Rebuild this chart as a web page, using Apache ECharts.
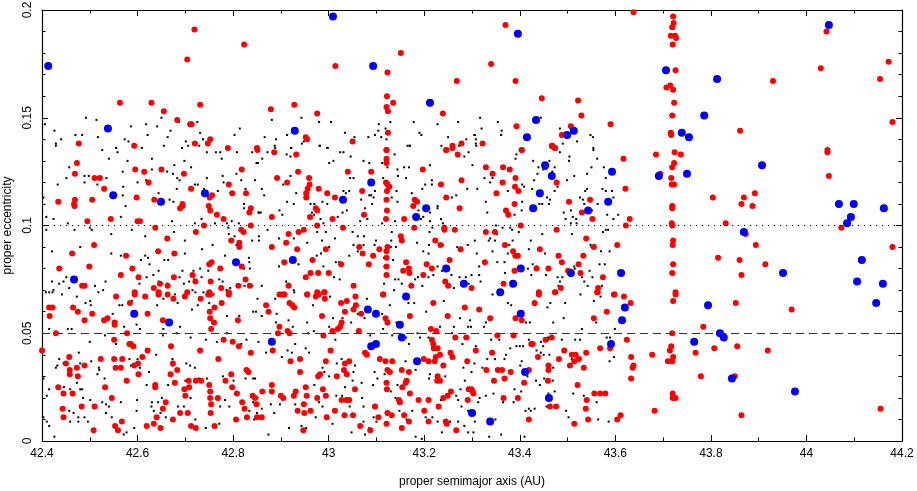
<!DOCTYPE html>
<html>
<head>
<meta charset="utf-8">
<script src="https://cdn.jsdelivr.net/npm/echarts@6/dist/echarts.min.js"></script>
<style>
  html, body { margin: 0; padding: 0; background: #fff; }
  #myChart { width: 917px; height: 491px; }
</style>
</head>
<body>
<div id="myChart"></div>
<script>
// [proper semimajor axis (AU), proper eccentricity]
var bluePts = [
  [42.413,0.174],[42.538,0.145],[42.549,0.114],[42.649,0.111],[42.741,0.115],[42.806,0.083],[42.467,0.075],[42.593,0.059],[42.666,0.055],
  [42.929,0.144],[42.925,0.084],[42.881,0.046],[43.009,0.197],[43.093,0.174],[43.089,0.120],[43.030,0.112],[43.212,0.157],[43.204,0.108],
  [43.183,0.104],[43.246,0.080],[43.283,0.073],[43.162,0.067],[43.082,0.061],[43.099,0.059],[43.149,0.054],[43.153,0.048],[43.089,0.044],
  [43.099,0.045],[43.185,0.037],[43.300,0.013],[43.338,0.009],[43.396,0.189],[43.434,0.149],[43.415,0.141],[43.499,0.142],[43.513,0.144],
  [43.453,0.128],[43.467,0.123],[43.442,0.115],[43.428,0.108],[43.593,0.125],[43.585,0.111],[43.543,0.107],[43.691,0.123],[43.750,0.124],
  [43.706,0.172],[43.739,0.143],[43.754,0.141],[43.786,0.151],[43.813,0.168],[43.907,0.128],[43.869,0.097],[43.951,0.078],[44.047,0.193],
  [44.068,0.110],[44.099,0.110],[44.093,0.104],[44.085,0.101],[44.162,0.108],[44.116,0.084],[44.106,0.074],[44.160,0.073],[43.402,0.080],
  [43.507,0.078],[43.612,0.078],[43.386,0.073],[43.359,0.069],[43.402,0.059],[43.620,0.062],[43.614,0.056],[43.591,0.045],[43.411,0.032],
  [43.461,0.020],[43.794,0.063],[44.146,0.064],[43.819,0.050],[43.827,0.048],[43.765,0.046],[43.844,0.029],[43.976,0.023]
];

var redPts = [
  [42.719,0.191],[42.823,0.184],[42.704,0.177],[42.563,0.157],[42.629,0.157],[42.655,0.153],[42.731,0.156],[42.683,0.149],[42.710,0.147],
  [42.713,0.147],[42.477,0.138],[42.593,0.137],[42.720,0.138],[42.747,0.138],[42.752,0.140],[42.789,0.136],[42.850,0.136],
  [43.151,0.180],[43.014,0.174],[43.123,0.171],[43.268,0.167],[43.122,0.160],[43.121,0.155],[43.135,0.157],[43.124,0.153],[42.879,0.154],
  [42.928,0.156],[42.976,0.152],[43.239,0.152],[43.124,0.143],[42.952,0.141],[42.955,0.140],[43.050,0.139],[43.259,0.137],[43.246,0.135],[43.121,0.135],
  [43.638,0.199],[43.370,0.193],[43.340,0.175],[43.391,0.167],[43.446,0.159],[43.522,0.158],[43.529,0.151],[43.393,0.146],[43.590,0.147],
  [43.507,0.146],[43.488,0.142],[43.322,0.138],[43.404,0.135],[43.468,0.137],[43.474,0.136],
  [43.721,0.197],[43.722,0.194],[43.719,0.192],[43.716,0.188],[43.725,0.188],[43.727,0.187],[43.720,0.184],[43.726,0.172],[43.715,0.165],
  [43.707,0.164],[43.721,0.163],[43.723,0.157],[43.719,0.151],[43.716,0.143],[43.717,0.142],
  [44.042,0.190],[44.030,0.173],[43.930,0.167],[44.172,0.176],[44.154,0.168],[44.180,0.148],[43.861,0.144],[44.044,0.135],
  [42.473,0.129],[42.469,0.124],[42.595,0.126],[42.614,0.125],[42.650,0.126],[42.697,0.124],[42.510,0.122],[42.521,0.122],[42.623,0.120],
  [42.818,0.126],[42.791,0.119],[42.712,0.117],[42.751,0.113],[42.756,0.114],[42.798,0.115],[42.827,0.115],[42.530,0.117],[42.505,0.112],
  [42.469,0.112],[42.467,0.110],[42.468,0.109],[42.434,0.111],[42.598,0.113],[42.635,0.112],[42.689,0.108],[42.694,0.109],[42.694,0.110],
  [42.749,0.109],[42.752,0.107],[42.766,0.105],[42.780,0.103],[42.837,0.108],[42.834,0.106],[42.495,0.102],[42.544,0.103],[42.600,0.102],
  [42.605,0.102],[42.739,0.100],[42.837,0.100],[42.637,0.099],[42.817,0.098],[42.822,0.097],[42.722,0.097],[42.662,0.094],[42.796,0.093],
  [42.813,0.092],[42.813,0.090],[42.509,0.091],[42.463,0.087],[42.643,0.088],[42.677,0.087],[42.576,0.086],[42.499,0.081],[42.436,0.080],
  [42.589,0.080],[42.755,0.083],[42.750,0.082],[42.773,0.080],[42.818,0.081],[42.565,0.077],[42.602,0.076],[42.676,0.076],[42.715,0.077],
  [42.753,0.074],[42.826,0.075],[42.484,0.072],[42.489,0.072],[42.647,0.073],[42.634,0.071],[42.663,0.072],[42.721,0.074],[42.775,0.071],
  [42.811,0.072],[42.835,0.072],[42.594,0.069],[42.644,0.069],[42.704,0.069],[42.750,0.069],[42.791,0.069],
  [42.851,0.135],[42.886,0.134],[42.932,0.133],[42.892,0.122],[42.913,0.120],[42.936,0.125],[42.959,0.122],[42.960,0.119],[42.956,0.117],
  [42.953,0.115],[42.953,0.113],[42.979,0.117],[42.997,0.115],[43.013,0.113],[43.040,0.125],[43.089,0.125],[43.070,0.116],[43.121,0.135],
  [43.121,0.131],[43.121,0.129],[43.120,0.120],[43.123,0.119],[43.127,0.118],[43.122,0.116],[43.121,0.112],[43.122,0.107],[43.120,0.103],
  [42.973,0.108],[42.976,0.107],[42.961,0.104],[42.881,0.104],[43.008,0.103],[42.976,0.100],[43.030,0.099],[43.074,0.105],[42.948,0.098],
  [42.937,0.097],[42.916,0.096],[42.911,0.092],[42.881,0.090],[42.934,0.089],[42.994,0.089],[43.180,0.112],[43.185,0.111],[43.177,0.109],
  [43.197,0.126],[43.235,0.119],[43.246,0.113],[43.278,0.121],[43.274,0.108],[43.246,0.135],[43.259,0.136],[43.270,0.133],[43.278,0.138],
  [43.158,0.103],[43.179,0.099],[43.242,0.099],[43.242,0.098],[43.264,0.098],[43.151,0.095],[43.153,0.093],[43.223,0.093],[43.234,0.091],
  [43.276,0.089],[43.253,0.084],[43.064,0.090],[43.071,0.087],[43.093,0.086],[43.106,0.089],[43.121,0.088],[43.121,0.085],[43.123,0.090],
  [43.084,0.082],[42.966,0.084],[42.907,0.083],[43.026,0.082],[42.978,0.078],[42.962,0.078],[43.000,0.078],[42.952,0.076],[42.916,0.072],
  [43.052,0.072],[43.121,0.081],[43.121,0.077],[43.162,0.083],[43.156,0.079],[43.168,0.080],[43.169,0.078],[43.205,0.082],[43.198,0.077],
  [43.216,0.080],[43.244,0.074],[43.250,0.072],[43.173,0.072],[42.897,0.068],[42.907,0.068],[42.955,0.068],[42.976,0.069],[42.991,0.069],[43.114,0.068],
  [43.404,0.135],[43.467,0.137],[43.473,0.136],[43.329,0.127],[43.343,0.124],[43.365,0.127],[43.379,0.126],[43.364,0.120],[43.391,0.122],
  [43.390,0.118],[43.397,0.116],[43.351,0.115],[43.389,0.110],[43.371,0.107],[43.376,0.105],[43.453,0.127],[43.477,0.120],[43.503,0.111],
  [43.547,0.112],[43.530,0.106],[43.552,0.103],[43.617,0.131],[43.621,0.117],[43.630,0.103],[43.622,0.100],[43.402,0.100],[43.329,0.097],
  [43.348,0.097],[43.477,0.098],[43.539,0.094],[43.369,0.091],[43.386,0.088],[43.391,0.086],[43.396,0.086],[43.442,0.089],[43.481,0.086],
  [43.533,0.086],[43.555,0.090],[43.604,0.091],[43.327,0.083],[43.389,0.079],[43.435,0.080],[43.460,0.080],[43.488,0.083],[43.501,0.079],
  [43.523,0.082],[43.527,0.078],[43.574,0.076],[43.366,0.073],[43.299,0.071],[43.440,0.069],[43.474,0.069],[43.486,0.071],[43.564,0.071],
  [43.563,0.069],[43.597,0.068],
  [43.685,0.133],[43.724,0.134],[43.737,0.133],[43.723,0.129],[43.719,0.127],[43.717,0.122],[43.718,0.119],[43.723,0.119],[43.719,0.109],
  [43.719,0.108],[43.718,0.101],[43.719,0.100],[43.721,0.093],[43.720,0.091],[43.721,0.082],[43.719,0.078],[43.726,0.069],[43.694,0.124],
  [44.044,0.134],[44.047,0.123],[43.804,0.113],[43.869,0.113],[43.892,0.115],[43.864,0.110],[43.887,0.109],[43.831,0.101],[43.873,0.096],
  [43.894,0.091],[44.073,0.099],[44.180,0.090],[43.815,0.085],[43.860,0.084],[43.914,0.082],[43.864,0.077],
  [43.852,0.064],[43.969,0.061],[43.784,0.053],[43.768,0.041],[43.807,0.043],[43.855,0.044],[43.919,0.042],[43.779,0.030],[43.850,0.030],
  [43.864,0.012],[44.155,0.015],
  [43.440,0.068],[43.474,0.069],[43.562,0.069],[43.598,0.068],[43.618,0.067],[43.632,0.064],[43.726,0.068],[43.721,0.065],[43.315,0.061],
  [43.431,0.064],[43.391,0.057],[43.404,0.056],[43.338,0.057],[43.555,0.057],[43.582,0.060],[43.353,0.049],[43.387,0.049],[43.467,0.048],
  [43.454,0.047],[43.424,0.045],[43.427,0.045],[43.624,0.047],[43.719,0.050],[43.308,0.042],[43.342,0.041],[43.438,0.039],[43.493,0.042],
  [43.482,0.038],[43.509,0.040],[43.517,0.040],[43.514,0.037],[43.524,0.038],[43.539,0.041],[43.505,0.035],[43.534,0.034],[43.568,0.043],
  [43.589,0.043],[43.633,0.039],[43.677,0.040],[43.717,0.044],[43.714,0.042],[43.721,0.039],[43.710,0.037],[43.719,0.037],[43.638,0.035],
  [43.636,0.034],[43.460,0.035],[43.460,0.033],[43.330,0.033],[43.354,0.033],[43.363,0.033],[43.381,0.032],[43.419,0.033],[43.459,0.028],
  [43.521,0.026],[43.633,0.029],[43.346,0.028],[43.368,0.029],[43.409,0.027],[43.299,0.024],[43.303,0.022],[43.366,0.020],[43.396,0.020],
  [43.463,0.016],[43.476,0.016],[43.540,0.019],[43.538,0.015],[43.556,0.022],[43.568,0.022],[43.579,0.022],[43.720,0.022],[43.720,0.020],
  [43.726,0.020],[43.682,0.014],[43.419,0.010],[43.543,0.010],[43.514,0.008],[43.604,0.010],[43.611,0.012],
  [42.902,0.068],[42.907,0.068],[42.955,0.068],[42.973,0.067],[42.979,0.068],[42.991,0.069],[42.992,0.066],[42.869,0.063],[42.874,0.060],
  [42.918,0.064],[42.924,0.063],[42.928,0.062],[42.986,0.058],[43.026,0.064],[43.038,0.065],[43.056,0.067],[43.057,0.063],[43.052,0.061],
  [43.034,0.060],[43.068,0.059],[43.114,0.068],[43.119,0.057],[43.123,0.055],[43.170,0.058],[43.219,0.064],[43.249,0.058],[43.285,0.062],
  [42.897,0.053],[42.894,0.050],[42.914,0.051],[42.918,0.050],[42.989,0.049],[43.027,0.055],[43.024,0.053],[43.008,0.051],[43.019,0.052],
  [43.063,0.051],[42.883,0.042],[43.004,0.042],[42.920,0.037],[42.940,0.038],[42.994,0.037],[43.043,0.037],[43.034,0.036],[43.076,0.041],
  [43.080,0.040],[43.107,0.038],[43.119,0.037],[43.123,0.033],[43.128,0.032],[43.133,0.037],[43.153,0.033],[43.168,0.032],[43.199,0.038],
  [43.209,0.037],[43.224,0.039],[43.222,0.037],[43.233,0.040],[43.216,0.047],[43.219,0.045],[43.220,0.043],[43.228,0.043],[43.214,0.052],
  [43.225,0.051],[43.240,0.035],[43.255,0.041],[43.259,0.039],[43.265,0.048],[43.288,0.048],[43.290,0.037],[42.940,0.032],[42.978,0.030],
  [42.982,0.031],[43.017,0.030],[43.032,0.033],[43.038,0.031],[43.055,0.024],[43.037,0.019],[43.027,0.019],[43.043,0.019],[42.988,0.024],
  [42.952,0.025],[42.861,0.023],[42.881,0.026],[42.881,0.023],[42.900,0.021],[42.905,0.020],[42.927,0.021],[42.931,0.023],[42.954,0.021],
  [42.976,0.020],[42.948,0.017],[42.994,0.021],[42.846,0.020],[43.121,0.027],[43.122,0.024],[43.163,0.028],[43.161,0.027],[43.154,0.025],
  [43.170,0.022],[43.147,0.019],[43.149,0.018],[43.188,0.019],[43.209,0.019],[43.228,0.030],[43.233,0.028],[43.227,0.028],[43.240,0.020],
  [43.249,0.021],[43.256,0.023],[43.293,0.024],[43.301,0.023],[43.291,0.019],[43.230,0.016],[43.200,0.014],[43.097,0.016],[43.104,0.011],
  [43.123,0.013],[43.121,0.008],[43.132,0.012],[43.158,0.012],[43.168,0.009],[43.153,0.006],[43.209,0.009],[43.245,0.009],[43.247,0.008],
  [43.267,0.005],[42.850,0.011],[42.860,0.011],[42.935,0.014],[42.949,0.013],[42.962,0.014],[43.013,0.014],[42.996,0.011],[43.033,0.012],
  [43.051,0.012],[43.066,0.007],[43.087,0.005],[42.947,0.005],
  [42.415,0.062],[42.422,0.062],[42.416,0.058],[42.429,0.050],[42.400,0.042],[42.465,0.062],[42.475,0.060],[42.505,0.059],[42.489,0.056],
  [42.530,0.056],[42.537,0.057],[42.552,0.054],[42.552,0.055],[42.555,0.067],[42.584,0.064],[42.594,0.068],[42.616,0.067],[42.621,0.059],
  [42.644,0.068],[42.663,0.068],[42.675,0.066],[42.653,0.056],[42.699,0.067],[42.732,0.066],[42.748,0.068],[42.752,0.068],[42.761,0.062],
  [42.751,0.060],[42.752,0.057],[42.754,0.052],[42.760,0.055],[42.791,0.068],[42.776,0.064],[42.810,0.056],[42.551,0.047],[42.578,0.050],
  [42.583,0.045],[42.591,0.044],[42.586,0.045],[42.621,0.042],[42.670,0.044],[42.610,0.039],[42.601,0.036],[42.593,0.035],[42.602,0.031],
  [42.568,0.038],[42.551,0.038],[42.554,0.034],[42.565,0.034],[42.523,0.038],[42.489,0.035],[42.473,0.034],[42.475,0.030],[42.458,0.033],
  [42.458,0.031],[42.450,0.036],[42.457,0.039],[42.434,0.025],[42.445,0.022],[42.464,0.022],[42.443,0.015],[42.445,0.011],[42.483,0.016],
  [42.510,0.016],[42.532,0.025],[42.546,0.020],[42.577,0.028],[42.508,0.005],[42.553,0.007],[42.559,0.005],[42.567,0.009],[42.674,0.036],
  [42.683,0.033],[42.669,0.031],[42.678,0.027],[42.637,0.026],[42.637,0.025],[42.659,0.018],[42.653,0.015],[42.640,0.011],[42.634,0.008],
  [42.648,0.006],[42.619,0.007],[42.674,0.010],[42.698,0.024],[42.700,0.021],[42.689,0.013],[42.705,0.013],[42.707,0.028],[42.708,0.025],
  [42.722,0.028],[42.733,0.028],[42.750,0.026],[42.752,0.023],[42.752,0.020],[42.754,0.017],[42.753,0.013],[42.768,0.020],[42.712,0.007],
  [42.722,0.006],[42.761,0.007],[42.731,0.042],[42.769,0.038],[42.780,0.047],[42.799,0.046],[42.812,0.044],[42.837,0.041],[42.828,0.033],
  [42.832,0.032],[42.796,0.031],[42.784,0.028],[42.798,0.025],[42.808,0.022],[42.819,0.018],[42.824,0.015],[42.841,0.021],[42.849,0.017],
  [42.806,0.010],[42.829,0.011]
];

var blackPts = [
  [42.406,0.147],[42.426,0.144],[42.440,0.140],[42.429,0.137],[42.470,0.142],[42.484,0.142],[42.492,0.150],[42.514,0.149],[42.517,0.141],
  [42.555,0.136],[42.573,0.140],[42.581,0.139],[42.586,0.146],[42.609,0.136],[42.618,0.147],[42.621,0.142],[42.641,0.146],[42.650,0.150],
  [42.655,0.137],[42.663,0.141],[42.669,0.144],[42.686,0.148],[42.693,0.136],[42.701,0.139],[42.706,0.137],[42.725,0.148],[42.729,0.137],
  [42.731,0.143],[42.737,0.140],[42.803,0.142],[42.814,0.145],
  [42.881,0.149],[42.866,0.141],[42.890,0.140],[42.913,0.142],[42.943,0.150],[42.980,0.148],[43.005,0.148],[42.948,0.139],[42.944,0.138],
  [42.982,0.137],[42.998,0.136],[42.921,0.136],[42.887,0.137],[43.034,0.143],[43.054,0.141],[43.083,0.141],[43.097,0.142],[43.105,0.147],
  [43.110,0.141],[43.104,0.144],[43.119,0.145],[43.121,0.140],[43.129,0.148],[43.165,0.137],[43.169,0.137],[43.178,0.148],[43.190,0.143],
  [43.194,0.142],[43.228,0.147],[43.250,0.141],[43.236,0.137],[43.271,0.148],[43.273,0.137],[43.288,0.140],[43.305,0.142],
  [43.317,0.150],[43.354,0.148],[43.320,0.145],[43.306,0.142],[43.308,0.140],[43.362,0.144],[43.361,0.142],[43.309,0.137],[43.444,0.150],
  [43.484,0.145],[43.490,0.138],[43.520,0.139],[43.548,0.142],[43.553,0.141],[43.554,0.136],
  [42.429,0.138],[42.526,0.135],[42.555,0.136],[42.558,0.134],[42.540,0.131],[42.579,0.130],[42.630,0.131],[42.693,0.136],[42.745,0.134],
  [42.764,0.134],[42.773,0.134],[42.776,0.131],[42.808,0.134],[42.840,0.134],[42.852,0.129],[42.457,0.127],[42.489,0.123],[42.498,0.123],
  [42.489,0.120],[42.451,0.122],[42.433,0.119],[42.403,0.113],[42.516,0.119],[42.535,0.122],[42.569,0.125],[42.569,0.114],[42.570,0.118],
  [42.600,0.120],[42.618,0.121],[42.630,0.126],[42.662,0.125],[42.674,0.124],[42.677,0.128],[42.683,0.122],[42.688,0.121],[42.682,0.117],
  [42.720,0.119],[42.726,0.119],[42.712,0.127],[42.698,0.130],[42.745,0.122],[42.739,0.117],[42.768,0.116],[42.778,0.123],[42.780,0.120],
  [42.807,0.124],[42.817,0.121],[42.826,0.117],[42.409,0.104],[42.424,0.103],[42.409,0.098],[42.454,0.101],[42.500,0.099],[42.504,0.098],
  [42.468,0.098],[42.545,0.096],[42.565,0.104],[42.575,0.109],[42.588,0.098],[42.616,0.095],[42.648,0.110],[42.644,0.115],[42.667,0.112],
  [42.675,0.111],[42.676,0.097],[42.672,0.102],[42.699,0.093],[42.720,0.101],[42.734,0.103],[42.762,0.101],[42.787,0.101],[42.790,0.099],
  [42.797,0.102],[42.812,0.101],[42.823,0.108],[42.823,0.110],[42.854,0.106],[42.791,0.096],[42.803,0.095],[42.840,0.093],[42.807,0.091],
  [42.854,0.095],[42.480,0.090],[42.421,0.088],[42.545,0.087],[42.565,0.086],[42.573,0.086],[42.607,0.084],[42.616,0.086],[42.622,0.085],
  [42.625,0.082],[42.644,0.079],[42.656,0.084],[42.664,0.084],[42.699,0.087],[42.735,0.089],[42.757,0.091],[42.783,0.086],[42.833,0.085],
  [42.834,0.083],[42.823,0.080],[42.835,0.080],[42.717,0.079],[42.731,0.080],[42.694,0.079],[42.633,0.077],[42.619,0.076],[42.644,0.074],
  [42.663,0.073],[42.688,0.076],[42.697,0.073],[42.708,0.074],[42.718,0.075],[42.734,0.076],[42.748,0.079],[42.778,0.074],[42.771,0.075],
  [42.794,0.071],[42.824,0.072],[42.451,0.076],[42.436,0.073],[42.421,0.074],[42.424,0.070],[42.445,0.074],[42.457,0.071],[42.408,0.069],
  [42.511,0.072],[42.528,0.070],[42.533,0.074],[42.604,0.073],[42.715,0.070],[42.738,0.069],[42.786,0.070],[42.840,0.072],
  [42.872,0.134],[42.888,0.136],[42.912,0.133],[42.920,0.132],[42.922,0.136],[42.981,0.137],[42.997,0.136],[43.024,0.134],[43.031,0.134],
  [43.010,0.130],[43.001,0.129],[43.046,0.132],[43.073,0.130],[43.085,0.129],[43.123,0.127],[43.138,0.133],[43.144,0.126],[43.158,0.127],
  [43.168,0.127],[43.162,0.122],[43.145,0.123],[43.114,0.122],[43.112,0.129],[43.170,0.137],[43.212,0.128],[43.202,0.119],[43.216,0.121],
  [43.216,0.119],[43.196,0.117],[43.174,0.115],[43.228,0.109],[43.228,0.108],[43.188,0.107],[43.212,0.106],[43.258,0.113],[43.267,0.114],
  [43.284,0.132],[43.293,0.134],[43.290,0.117],[42.849,0.129],[42.861,0.131],[42.846,0.121],[42.860,0.117],[42.865,0.114],[42.913,0.111],
  [42.927,0.110],[42.932,0.115],[42.905,0.119],[42.920,0.123],[42.962,0.110],[42.970,0.110],[42.997,0.110],[42.987,0.111],[43.031,0.116],
  [43.036,0.115],[43.043,0.116],[43.029,0.106],[43.019,0.104],[43.038,0.107],[43.045,0.122],[43.052,0.122],[43.068,0.112],[43.085,0.114],
  [43.089,0.114],[43.094,0.113],[43.097,0.116],[43.091,0.110],[43.142,0.116],[43.144,0.111],[43.112,0.101],[43.132,0.113],[42.897,0.107],
  [42.903,0.105],[42.853,0.106],[42.858,0.106],[42.965,0.106],[42.969,0.105],[42.983,0.103],[42.989,0.101],[43.066,0.102],[43.081,0.103],
  [43.076,0.108],[43.139,0.102],[43.212,0.102],[43.239,0.101],[43.198,0.104],[43.193,0.103],[43.235,0.103],[42.854,0.093],[42.872,0.098],
  [42.896,0.094],[42.927,0.094],[42.955,0.092],[42.976,0.097],[42.986,0.093],[43.001,0.090],[42.994,0.097],[43.013,0.094],[43.061,0.095],
  [43.074,0.095],[43.050,0.097],[43.073,0.091],[43.052,0.091],[43.043,0.086],[43.061,0.088],[43.096,0.091],[43.099,0.093],[43.131,0.093],
  [43.130,0.090],[43.132,0.097],[43.141,0.090],[43.185,0.092],[43.211,0.097],[43.210,0.091],[43.217,0.099],[43.198,0.088],[43.209,0.087],
  [43.239,0.091],[43.269,0.090],[43.291,0.091],[43.306,0.093],[42.975,0.086],[42.984,0.087],[43.015,0.083],[43.022,0.083],[43.023,0.075],
  [43.011,0.076],[42.989,0.081],[42.937,0.082],[42.896,0.081],[42.911,0.074],[42.916,0.073],[42.928,0.069],[42.860,0.072],[43.116,0.085],
  [43.117,0.081],[43.135,0.084],[43.116,0.073],[43.139,0.075],[43.146,0.075],[43.153,0.073],[43.181,0.075],[43.187,0.076],[43.209,0.076],
  [43.228,0.081],[43.237,0.079],[43.196,0.072],[43.219,0.077],[43.257,0.077],[43.262,0.071],[43.293,0.073],[43.287,0.076],[43.274,0.076],
  [43.308,0.138],[43.301,0.128],[43.326,0.122],[43.343,0.122],[43.338,0.120],[43.311,0.117],[43.393,0.133],[43.391,0.131],[43.428,0.130],
  [43.439,0.127],[43.449,0.126],[43.437,0.124],[43.430,0.121],[43.409,0.118],[43.426,0.117],[43.405,0.119],[43.375,0.116],[43.329,0.111],
  [43.332,0.106],[43.389,0.105],[43.405,0.111],[43.404,0.107],[43.462,0.130],[43.473,0.127],[43.468,0.125],[43.484,0.134],[43.465,0.136],
  [43.504,0.132],[43.503,0.130],[43.554,0.135],[43.562,0.131],[43.550,0.127],[43.541,0.124],[43.576,0.127],[43.580,0.122],[43.499,0.121],
  [43.514,0.123],[43.479,0.118],[43.473,0.116],[43.457,0.113],[43.463,0.112],[43.461,0.110],[43.447,0.110],[43.441,0.110],[43.492,0.106],
  [43.496,0.103],[43.507,0.107],[43.511,0.104],[43.507,0.101],[43.518,0.103],[43.519,0.101],[43.526,0.113],[43.532,0.112],[43.535,0.110],
  [43.537,0.116],[43.541,0.117],[43.551,0.107],[43.563,0.110],[43.573,0.117],[43.580,0.116],[43.593,0.116],[43.596,0.113],[43.583,0.105],
  [43.596,0.103],[43.606,0.105],[43.585,0.098],[43.574,0.097],[43.580,0.098],[43.350,0.100],[43.364,0.099],[43.380,0.099],[43.384,0.098],
  [43.398,0.097],[43.352,0.096],[43.338,0.094],[43.335,0.093],[43.348,0.093],[43.423,0.093],[43.447,0.096],[43.509,0.096],[43.548,0.091],
  [43.556,0.091],[43.550,0.090],[43.588,0.088],[43.570,0.088],[43.310,0.087],[43.343,0.088],[43.385,0.093],[43.378,0.091],[43.375,0.087],
  [43.387,0.086],[43.419,0.089],[43.453,0.087],[43.427,0.082],[43.435,0.081],[43.417,0.080],[43.455,0.077],[43.424,0.077],[43.368,0.083],
  [43.353,0.083],[43.315,0.081],[43.315,0.077],[43.299,0.077],[43.318,0.074],[43.369,0.078],[43.479,0.076],[43.489,0.076],[43.481,0.072],
  [43.484,0.074],[43.514,0.081],[43.515,0.080],[43.546,0.079],[43.552,0.076],[43.567,0.082],[43.578,0.082],[43.542,0.072],[43.572,0.072],
  [43.535,0.074],[43.530,0.076],
  [42.415,0.069],[42.422,0.069],[42.442,0.068],[42.473,0.067],[42.501,0.065],[42.502,0.063],[42.491,0.064],[42.518,0.069],[42.548,0.059],
  [42.562,0.063],[42.568,0.063],[42.588,0.065],[42.595,0.060],[42.641,0.063],[42.654,0.066],[42.678,0.068],[42.684,0.064],[42.714,0.061],
  [42.721,0.069],[42.759,0.068],[42.750,0.064],[42.726,0.063],[42.787,0.058],[42.813,0.058],[42.842,0.060],[42.848,0.060],[42.415,0.052],
  [42.454,0.052],[42.462,0.052],[42.500,0.046],[42.532,0.049],[42.555,0.045],[42.572,0.053],[42.598,0.054],[42.605,0.052],[42.654,0.052],
  [42.653,0.049],[42.682,0.050],[42.689,0.053],[42.711,0.048],[42.743,0.047],[42.766,0.046],[42.787,0.050],[42.828,0.047],[42.817,0.045],
  [42.429,0.034],[42.432,0.035],[42.436,0.038],[42.445,0.036],[42.477,0.041],[42.480,0.036],[42.503,0.037],[42.519,0.034],[42.520,0.033],
  [42.583,0.038],[42.600,0.038],[42.586,0.035],[42.605,0.034],[42.639,0.040],[42.673,0.038],[42.624,0.032],[42.619,0.026],[42.673,0.035],
  [42.702,0.036],[42.710,0.035],[42.720,0.034],[42.664,0.026],[42.700,0.028],[42.728,0.029],[42.745,0.029],[42.779,0.030],[42.801,0.028],
  [42.826,0.029],[42.842,0.029],[42.403,0.029],[42.415,0.024],[42.410,0.021],[42.446,0.025],[42.459,0.024],[42.473,0.027],[42.480,0.024],
  [42.501,0.019],[42.516,0.031],[42.531,0.029],[42.534,0.017],[42.526,0.018],[42.540,0.016],[42.484,0.024],[42.486,0.020],[42.403,0.011],
  [42.410,0.009],[42.415,0.007],[42.426,0.002],[42.447,0.011],[42.457,0.014],[42.466,0.013],[42.476,0.011],[42.476,0.009],[42.459,0.009],
  [42.489,0.011],[42.496,0.009],[42.534,0.013],[42.546,0.011],[42.565,0.018],[42.577,0.004],[42.571,0.003],[42.593,0.006],[42.598,0.014],
  [42.599,0.019],[42.629,0.016],[42.630,0.018],[42.634,0.014],[42.643,0.018],[42.651,0.020],[42.648,0.013],[42.659,0.011],[42.685,0.016],
  [42.697,0.016],[42.711,0.020],[42.721,0.010],[42.743,0.006],[42.771,0.008],[42.773,0.016],[42.783,0.019],[42.792,0.016],[42.834,0.014],
  [42.842,0.018],[42.850,0.013],[42.844,0.010],
  [42.851,0.066],[42.888,0.066],[42.891,0.059],[42.927,0.070],[42.967,0.063],[43.003,0.067],[43.009,0.057],[43.001,0.053],[42.969,0.051],
  [42.955,0.055],[42.925,0.053],[42.916,0.056],[42.890,0.055],[42.860,0.058],[42.957,0.050],[43.014,0.047],[43.029,0.057],[43.047,0.055],
  [43.052,0.062],[43.061,0.059],[43.075,0.057],[43.080,0.066],[43.112,0.059],[43.087,0.049],[43.114,0.052],[43.133,0.049],[43.142,0.055],
  [43.167,0.064],[43.179,0.064],[43.204,0.060],[43.233,0.053],[43.241,0.065],[43.262,0.053],[43.275,0.057],[43.258,0.050],[43.280,0.045],
  [43.292,0.053],[43.209,0.048],[43.191,0.048],[43.162,0.048],[43.168,0.045],[43.186,0.050],[43.128,0.063],[43.137,0.070],[42.853,0.046],
  [42.869,0.041],[42.902,0.039],[42.914,0.042],[42.923,0.041],[42.930,0.045],[42.952,0.043],[42.959,0.041],[42.987,0.034],[42.991,0.032],
  [43.001,0.030],[42.970,0.026],[42.980,0.031],[43.017,0.036],[43.027,0.038],[43.055,0.035],[43.052,0.032],[43.050,0.028],[43.034,0.025],
  [43.069,0.027],[43.093,0.026],[43.096,0.032],[43.102,0.029],[43.117,0.031],[43.130,0.023],[43.144,0.026],[43.140,0.020],[43.161,0.037],
  [43.182,0.033],[43.212,0.031],[43.210,0.029],[43.244,0.030],[43.247,0.021],[43.267,0.021],[43.271,0.019],[43.282,0.034],[43.285,0.028],
  [43.276,0.024],[42.846,0.029],[42.851,0.020],[42.879,0.017],[42.898,0.017],[42.886,0.013],[42.917,0.006],[42.930,0.017],[42.960,0.014],
  [42.943,0.007],[42.953,0.006],[42.980,0.018],[42.987,0.016],[42.973,0.011],[43.008,0.008],[43.016,0.021],[43.028,0.021],[43.044,0.016],
  [43.070,0.020],[43.073,0.016],[43.073,0.009],[43.085,0.006],[43.100,0.009],[43.094,0.011],[42.874,0.003],[42.860,0.015],[43.048,0.004],
  [43.076,0.003],[43.148,0.014],[43.163,0.010],[43.175,0.014],[43.182,0.002],[43.195,0.001],[43.203,0.011],[43.217,0.011],[43.228,0.009],
  [43.237,0.004],[43.254,0.009],[43.271,0.009],[43.284,0.007],[43.292,0.004],[43.278,0.016],[43.292,0.014],[43.235,0.019],
  [43.296,0.056],[43.343,0.068],[43.375,0.064],[43.382,0.063],[43.432,0.063],[43.458,0.062],[43.464,0.064],[43.495,0.064],[43.492,0.057],
  [43.527,0.068],[43.555,0.065],[43.569,0.067],[43.560,0.055],[43.470,0.055],[43.421,0.055],[43.413,0.055],[43.329,0.055],[43.325,0.053],
  [43.298,0.053],[43.340,0.047],[43.357,0.047],[43.308,0.044],[43.332,0.038],[43.305,0.036],[43.322,0.034],[43.299,0.032],[43.348,0.038],
  [43.371,0.040],[43.380,0.043],[43.393,0.044],[43.400,0.044],[43.407,0.044],[43.419,0.047],[43.444,0.046],[43.449,0.044],[43.460,0.047],
  [43.435,0.042],[43.444,0.041],[43.450,0.040],[43.462,0.040],[43.459,0.048],[43.488,0.047],[43.516,0.047],[43.526,0.047],[43.530,0.052],
  [43.509,0.038],[43.513,0.040],[43.470,0.034],[43.451,0.029],[43.457,0.028],[43.469,0.028],[43.434,0.028],[43.442,0.026],[43.389,0.024],
  [43.403,0.023],[43.416,0.030],[43.404,0.037],[43.401,0.035],[43.368,0.038],[43.329,0.021],[43.345,0.022],[43.316,0.020],[43.313,0.018],
  [43.306,0.009],[43.303,0.004],[43.336,0.002],[43.361,0.003],[43.349,0.010],[43.365,0.018],[43.387,0.018],[43.412,0.014],[43.419,0.015],
  [43.423,0.014],[43.431,0.015],[43.410,0.002],[43.460,0.022],[43.473,0.023],[43.456,0.016],[43.497,0.014],[43.502,0.011],[43.512,0.022],
  [43.534,0.021],[43.561,0.018],[43.564,0.010],[43.586,0.009],[43.588,0.037],[43.597,0.039],[43.582,0.048],[43.589,0.048],[43.599,0.052]
];

var xTicks = { min: 42.4, max: 44.2, step: 0.2 };
var yTicks = { min: 0, max: 0.2, step: 0.05 };

var myChart = echarts.init(document.getElementById('myChart'));

var font = 'Liberation Sans';
var axisCommon = {
  type: 'value',
  axisLine: { show: true, onZero: false, lineStyle: { color: '#000', width: 1.2 } },
  axisTick: { show: true, inside: true, length: 6, lineStyle: { color: '#000', width: 1 } },
  minorTick: { show: true, length: 3.5, lineStyle: { color: '#000', width: 1 } },
  splitLine: { show: false },
  minorSplitLine: { show: false }
};

var option = {
  animation: false,
  backgroundColor: '#fff',
  grid: { left: 42, right: 15, top: 10, bottom: 50, containLabel: false, outerBoundsMode: 'none' },
  xAxis: [
    Object.assign({}, axisCommon, {
      position: 'bottom',
      min: xTicks.min, max: xTicks.max, interval: xTicks.step,
      minorTick: Object.assign({}, axisCommon.minorTick, { splitNumber: 2 }),
      name: 'proper semimajor axis (AU)',
      nameLocation: 'middle',
      nameGap: 35,
      nameTextStyle: { fontFamily: font, fontSize: 12, color: '#000' },
      axisLabel: { margin: 7, fontFamily: font, fontSize: 12, color: '#000' }
    }),
    Object.assign({}, axisCommon, {
      position: 'top',
      min: xTicks.min, max: xTicks.max, interval: xTicks.step,
      minorTick: Object.assign({}, axisCommon.minorTick, { splitNumber: 2 }),
      axisLabel: { show: false }
    })
  ],
  yAxis: [
    Object.assign({}, axisCommon, {
      position: 'left',
      min: yTicks.min, max: yTicks.max, interval: yTicks.step,
      minorTick: Object.assign({}, axisCommon.minorTick, { splitNumber: 5 }),
      name: 'proper eccentricity',
      nameLocation: 'middle',
      nameGap: 27,
      nameTextStyle: { fontFamily: font, fontSize: 12, color: '#000' },
      axisLabel: { rotate: 90, margin: 8, fontFamily: font, fontSize: 12, color: '#000' }
    }),
    Object.assign({}, axisCommon, {
      position: 'right',
      min: yTicks.min, max: yTicks.max, interval: yTicks.step,
      minorTick: Object.assign({}, axisCommon.minorTick, { splitNumber: 5 }),
      axisLabel: { show: false }
    })
  ],
  series: [
    {
      name: 'background',
      type: 'scatter',
      data: blackPts,
      symbol: 'rect',
      symbolSize: 2,
      itemStyle: { color: '#000', opacity: 1 },
      silent: true,
      markLine: {
        silent: true,
        symbol: 'none',
        label: { show: false },
        data: [
          { yAxis: 0.1, lineStyle: { color: '#000', width: 1.2, type: [1.2, 4.8] } },
          { yAxis: 0.05, lineStyle: { color: '#333', width: 1.2, type: [8, 5] } }
        ]
      }
    },
    {
      name: 'red',
      type: 'scatter',
      data: redPts,
      symbolSize: 6,
      itemStyle: { color: '#ff0000', opacity: 1 },
      silent: true
    },
    {
      name: 'blue',
      type: 'scatter',
      data: bluePts,
      symbolSize: 8,
      itemStyle: { color: '#0000ff', opacity: 1 },
      silent: true
    }
  ]
};

myChart.setOption(option);
window.addEventListener('resize', function () { myChart.resize(); });
</script>
</body>
</html>
